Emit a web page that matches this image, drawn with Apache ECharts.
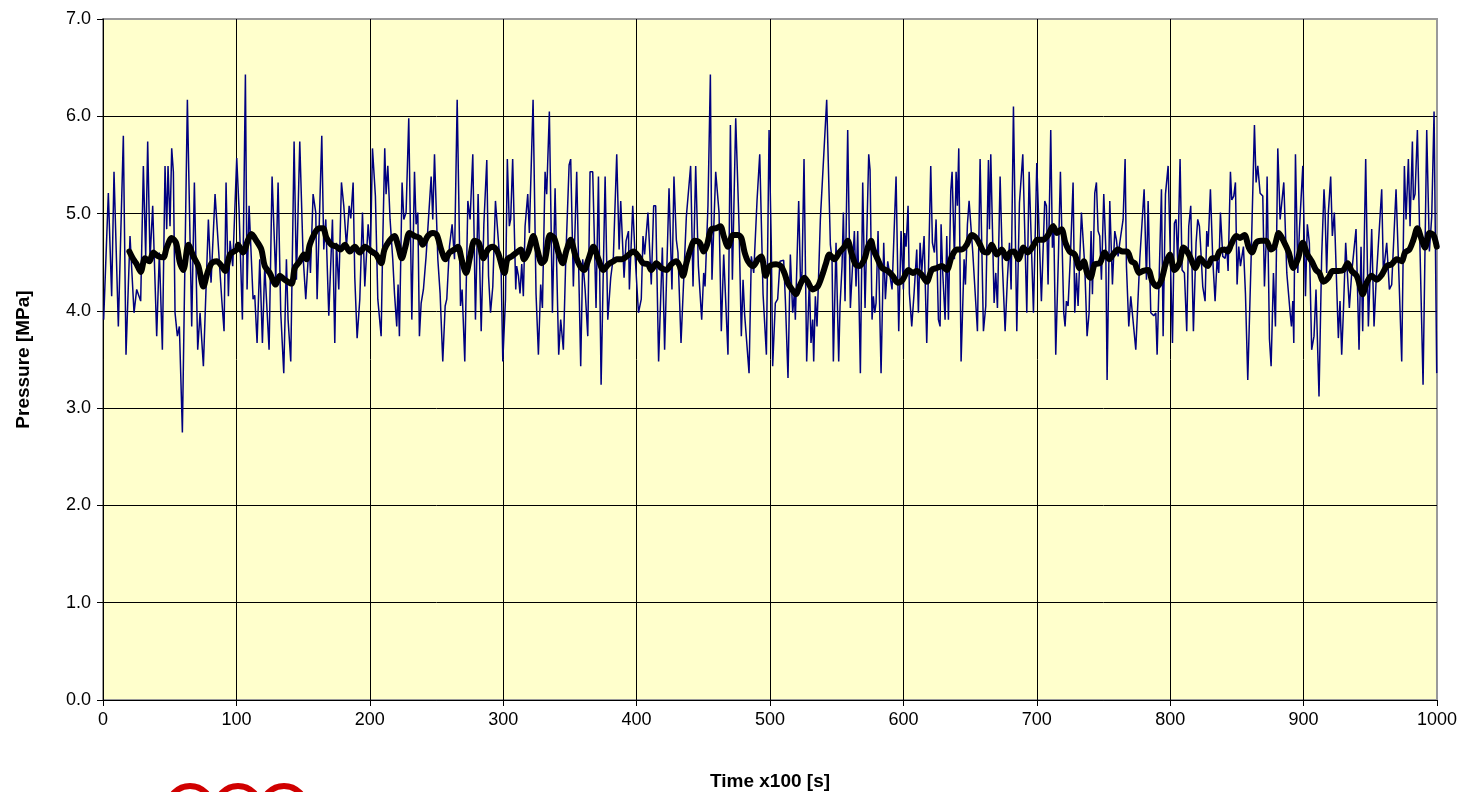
<!DOCTYPE html>
<html>
<head>
<meta charset="utf-8">
<script src="https://cdn.jsdelivr.net/npm/echarts@6/dist/echarts.min.js"></script>
<style>
html,body{margin:0;padding:0;background:#fff;}
#chart{width:1471px;height:792px;}
</style>
</head>
<body>
<div id="chart"></div>
<script>
// Raw pressure signal (time in units of 100 s, pressure in MPa)
const rawTime = [0.5,4,6.5,8.25,11.5,15.25,17.25,20.25,23.25,25.25,28.25,30.25,32,33.5,35.25,37.25,40.25,42.25,44.5,46.5,47.75,48.75,50.25,51.5,52.75,54,55.75,57.25,59.5,63.25,66.5,68.5,71,72.75,75.25,79,81,84,89,90.75,92.25,94,95.25,97.25,100.25,
102,104.5,106.75,108,109.5,112.5,113.75,115.5,117.5,119.5,121.25,124.5,126.75,129.5,131.25,133.25,135.5,137.5,138.75,140.75,143.25,145,147.5,150,152,154.5,155.5,157.5,159.5,160.5,164,165.5,167,169.25,172,173.75,175,176.75,178.75,180.5,182.5,184.5,185.75,187.5,188.75,190.5,192.5,194.5,196.25,198.75,200.5,202,
204.2,206,208.5,209.7,211.2,212.2,213.5,215.2,217.2,218.5,220.2,221.2,222.2,224.2,225.5,227.2,229.2,231.5,233.5,234.7,236,237.2,238.5,240.2,242.2,246,247.2,248.5,251,252.7,254.7,256.5,257.7,259.7,261.7,263.5,265.5,268,269.2,271.2,273.5,275.2,277.2,279.2,281.2,283.5,285.5,287.7,289,290.5,292.2,294.2,296.7,298.5,299.7,301.7,
303.1,304.6,305.6,307.1,309.4,310.1,311.4,312.6,313.9,315.1,316.4,318.4,319.6,320.6,322.4,324.6,326.4,328.1,329.4,331.4,332.6,334.6,336.9,338.9,340.1,341.6,343.1,345.1,346.9,349.4,350.6,352.6,355.1,358.1,359.6,361.4,363.4,365.1,367.1,369.6,371.4,373.4,376.4,378.4,380.6,382.6,385.1,386.9,388.1,390.6,392.1,393.9,394.6,397.1,398.9,401.4,
403.5,404.8,406,408.5,409.3,411,412.8,414.3,416.5,419.3,421,424.3,426.5,428,429.8,431,433.3,437.3,440.5,442.3,444.3,446.3,447.3,448.8,450.3,451.3,453.5,455.3,456.5,459.3,461.8,463.5,465.3,468.5,470.3,471.8,474.3,476.8,478.5,479.8,481,484.3,486,487.8,490.3,492.3,494.8,497.3,499.3,501,
502,504,505.75,507.5,510.25,511.5,513.5,515.25,517,518.25,519,521.5,523,524,525.5,527.5,529.5,530.75,532,532.75,534,535.25,537.75,539,542.5,545.25,546.5,547.5,549.5,551.5,552.5,554,555,556.25,558.25,560.25,561.5,563.25,564.5,565.75,567.75,569.5,571.25,574,575,576.5,577.5,578.5,579.5,581,583.25,585.25,586.5,588.25,589.5,591.5,594.5,596.5,598.25,600,601,
602,603.5,604.5,606.25,608,610,611.25,612.5,613.75,615.5,617.5,618.75,620.5,621.75,623.25,624.5,626.25,627.5,628.25,629.5,631.25,632.5,633.75,635.5,636.5,638.25,639.5,640.5,641.5,643.25,645.5,646.5,648,649.25,650.5,652,655.5,657.5,660,661.75,663.75,664.5,665.5,668,669.25,670.5,672.5,674.25,676.25,678,679.5,680.75,682.5,685,687,689.5,692.5,694.25,697.5,700,
703.45,705.95,707.2,708.45,710.45,711.7,712.7,714.2,716.2,717.7,718.7,720.2,721.2,722.2,723.45,725.2,727.2,728.45,729.7,730.95,733.45,735.95,737.7,739.2,740.7,741.7,743.45,744.7,745.95,747.2,748.45,750.2,751.7,752.7,754.7,756.7,758.45,759.7,760.95,762.2,764.7,766.2,767.2,768.95,770.45,771.7,774.2,777.2,780.45,782.2,783.45,785.45,787.7,789.2,790.2,793.45,794.7,796.45,798.45,801.7,
803.15,804.4,805.65,807.4,808.9,810.65,812.4,813.9,815.4,817.4,819.4,820.65,821.9,822.65,824.4,826.15,827.4,828.4,830.15,831.9,833.65,835.15,836.4,837.65,839.4,841.15,842.4,843.4,845.15,846.15,847.65,848.9,850.15,851.4,852.65,854.9,856.4,858.15,860.65,863.15,864.4,865.65,867.4,869.4,870.65,871.9,872.65,874.4,875.65,877.4,878.9,880.65,882.4,883.65,885.15,887.4,889.9,890.9,891.9,892.65,893.9,895.65,896.9,897.65,899.4,901.4,
902.8,904.3,906.05,907.8,909.3,911.55,913.55,915.3,916.05,917.3,918.55,920.3,921.55,923.05,924.3,926.05,927.3,928.55,929.8,931.55,932.8,934.3,936.05,939.3,941.55,943.05,944.3,946.55,948.55,951.05,952.8,954.3,958.55,959.8,962.3,964.3,966.05,969.3,971.05,973.55,975.55,976.8,978.55,979.8,981.55,982.3,983.55,985.3,987.3,989.55,992.3,994.3,996.05,997.8,999.8];

const rawPressure = [3.91,5.21,4.15,5.43,3.84,5.80,3.55,4.77,3.98,4.22,4.10,5.49,4.56,5.74,4.53,5.08,3.74,4.60,3.60,5.49,4.84,5.49,4.87,5.67,5.43,3.98,3.74,3.84,2.75,6.17,3.84,5.32,3.60,3.98,3.43,4.94,4.29,5.20,4.12,3.79,5.32,4.15,4.72,4.46,5.57,
5.04,3.91,6.43,4.22,5.08,4.12,4.16,3.67,4.53,3.67,4.46,3.60,5.38,4.32,5.32,3.98,3.36,4.53,3.91,3.48,5.74,4.32,5.74,4.56,4.12,4.70,4.39,5.20,5.01,4.12,5.80,4.63,4.94,3.95,4.94,3.67,4.70,4.22,5.32,5.08,4.66,5.08,4.95,5.32,4.34,3.72,4.12,5.01,4.25,4.89,4.60,5.67,
5.18,4.12,3.74,4.70,5.67,5.20,5.49,4.94,4.53,4.18,3.84,4.27,3.74,5.32,4.94,5.01,5.98,3.91,5.43,4.89,5.01,3.74,4.08,4.22,4.56,5.38,4.94,5.61,4.53,4.18,3.48,4.05,4.12,4.66,4.89,4.53,6.17,4.05,4.22,3.48,5.13,4.94,5.61,3.91,5.20,3.79,4.89,5.55,4.36,3.98,4.25,5.13,4.66,4.39,3.48,4.12,
5.56,4.87,4.94,5.56,4.22,4.46,4.36,4.18,4.48,4.15,4.87,5.20,4.80,4.82,6.17,4.18,3.55,4.27,4.03,5.43,5.20,6.05,3.98,5.26,4.46,3.55,3.91,3.60,4.53,5.50,5.56,4.25,5.43,3.43,4.53,4.22,3.74,5.43,5.43,4.03,5.38,3.24,5.38,3.91,4.34,4.56,5.61,4.63,5.13,4.34,4.72,4.82,4.22,5.08,4.56,3.98,
4.12,4.77,4.58,5.01,5.01,4.27,5.08,5.08,3.48,4.65,3.60,5.26,4.22,5.38,4.73,4.60,3.67,4.97,5.49,4.25,5.49,4.46,4.46,3.91,4.39,4.25,5.08,6.43,4.32,5.43,5.01,3.79,4.58,3.55,5.91,4.32,5.98,4.87,3.74,4.32,3.96,3.36,4.56,4.39,5.14,5.61,4.17,3.55,5.86,4.66,
3.43,4.08,4.12,4.51,4.52,4.12,3.31,4.58,3.98,4.18,3.91,5.13,4.22,4.39,5.56,3.48,4.32,3.67,3.91,3.48,4.15,3.84,4.94,4.95,6.17,4.68,4.53,3.48,4.70,3.48,4.05,4.46,5.01,4.10,5.86,4.03,4.36,4.82,4.25,4.82,3.36,5.32,4.03,5.61,5.45,3.91,4.15,3.98,4.08,4.82,3.36,4.70,4.12,4.51,4.51,4.22,5.38,3.79,4.82,4.22,4.80,
4.66,5.08,4.18,3.84,4.18,4.63,3.98,4.70,4.39,4.77,3.67,4.39,5.49,4.70,4.60,4.94,3.91,3.84,4.89,4.39,3.91,4.77,3.91,5.23,5.43,4.53,5.43,5.08,5.67,3.48,4.53,4.27,4.89,5.13,5.13,4.60,3.79,5.56,3.79,4.05,5.55,4.84,5.61,4.08,4.39,4.03,5.38,4.46,3.79,4.34,4.70,4.22,6.10,3.79,5.11,5.61,3.98,5.43,3.98,5.52,
4.10,5.13,5.08,4.27,5.86,4.65,4.90,3.55,4.56,5.43,5.42,3.98,3.84,4.10,4.05,4.56,5.32,3.98,4.39,4.05,5.01,4.46,3.74,3.98,4.82,4.17,5.21,5.32,4.82,4.77,4.32,5.20,4.65,3.29,5.13,4.27,4.82,4.73,4.56,4.70,4.94,5.56,4.46,3.84,4.15,4.15,3.60,4.53,5.25,4.32,5.13,3.98,3.95,3.98,3.55,5.25,3.74,5.20,5.49,3.67,
4.90,4.94,4.49,5.56,4.42,4.39,3.79,4.87,5.08,3.79,4.70,4.94,4.87,4.70,4.25,4.10,4.82,4.66,5.25,4.53,4.10,4.53,4.39,5.01,4.56,4.54,4.66,4.41,5.43,5.14,5.18,5.32,4.27,4.66,4.46,4.66,4.18,3.29,4.53,5.91,5.32,5.49,5.21,5.18,4.25,4.70,5.38,3.71,3.43,4.39,3.84,5.67,4.94,4.96,5.32,4.39,3.98,3.84,4.10,3.67,5.61,4.39,4.84,4.82,5.49,4.15,
4.89,4.70,3.60,3.74,4.22,3.12,4.56,5.25,5.04,4.39,5.01,5.38,4.77,5.01,5.01,3.72,4.10,3.55,3.98,4.70,4.39,4.03,4.39,4.84,3.60,4.66,3.79,5.56,3.84,4.84,3.84,4.29,5.25,4.39,4.70,4.22,4.27,5.25,4.53,3.48,5.49,4.94,5.56,4.87,5.74,5.14,5.20,5.86,4.61,3.24,5.86,4.61,4.97,6.05,3.36];

// Moving average (time in units of 100 s, pressure in MPa)
const avgTime = [19.75,22.75,25.25,28.25,31.5,34.75,37.75,41.5,45.25,47.75,51.5,54.75,57.75,60.25,64,67.75,71.5,75.25,78.25,81.5,85.25,89,91.5,95.25,100.25,
101.25,105,108.75,111.25,115,118.75,121.25,125,129.5,132.5,136.25,141.25,143.75,147.5,150.5,152.5,155,158.75,162,165,167.5,171.25,175,178,181.25,185,188.75,192.5,196.25,201.25,
204.7,208.5,211,214.7,218.5,221,224,226.7,229.7,233.5,237.2,239.7,243.5,247.2,250.2,253.5,256.7,259.7,263.5,266,269.2,272.2,275.2,278.5,281.7,285.2,288.5,292.2,296,301,
303.1,306.4,310.1,313.1,315.6,318.9,322.6,325.6,328.9,331.4,335.1,338.1,341.4,344.6,347.6,350.6,353.9,357.6,360.6,363.9,367.6,371.4,375.1,378.9,382.6,385.1,388.9,392.6,397.6,401.4,
404.8,408.5,411,414.8,418.5,422.3,426,429.8,432.3,434.8,437.3,440.3,443.5,447.3,450.3,452.8,456,459.8,462.8,465.3,468.5,472.3,476,478.5,481,483.5,487.3,491,493.5,496.8,499.8,
504.5,508.25,510.75,513.25,516.5,519.5,522,525.75,528.25,532,535.75,539,542,544.5,548.25,552,555.75,558.25,560.75,564,567,570.75,573.25,575.75,577.5,580.75,584,588.25,592,595.75,599.5,
603.75,607,610,613.75,617.5,621.25,625,628.75,632.5,636.25,640,643.75,647.5,651.25,654.5,657.5,660,663,666.25,670,673.75,677.5,680,683,686.25,690,693.25,697,700.5,
704.7,708.45,712.2,715.2,718.45,721.45,724.7,728.45,732.2,735.2,737.7,740.2,743.45,747.2,750.95,754.2,757.2,760.95,764.2,767.7,770.95,773.45,776.7,779.7,783.45,786.7,790.2,793.45,796.7,799.7,
803.15,806.9,809.9,813.15,815.65,818.9,822.4,825.65,828.15,831.4,834.4,836.9,840.65,843.15,845.65,849.4,852.4,855.65,858.9,861.4,864.4,868.15,871.9,875.65,878.15,881.4,884.9,888.9,892.4,895.65,899.4,
902.8,906.05,909.3,911.8,914.8,918.55,921.8,926.05,929.8,933.05,936.05,939.8,942.3,944.3,947.3,951.05,954.8,958.55,962.3,966.05,969.8,973.55,976.05,979.3,982.3,985.3,988.55,991.05,994.3,997.3,999.8];

const avgPressure = [4.61,4.53,4.48,4.40,4.54,4.51,4.60,4.56,4.55,4.65,4.75,4.70,4.49,4.42,4.68,4.56,4.46,4.25,4.39,4.49,4.51,4.46,4.41,4.58,4.63,
4.68,4.60,4.73,4.79,4.72,4.63,4.46,4.39,4.27,4.36,4.32,4.28,4.44,4.51,4.58,4.53,4.68,4.80,4.85,4.85,4.75,4.68,4.66,4.63,4.68,4.61,4.66,4.60,4.66,4.61,
4.58,4.49,4.63,4.72,4.77,4.68,4.54,4.66,4.80,4.77,4.75,4.68,4.77,4.80,4.78,4.63,4.53,4.60,4.63,4.66,4.51,4.39,4.56,4.72,4.70,4.54,4.63,4.66,4.60,4.39,
4.53,4.56,4.60,4.63,4.53,4.61,4.77,4.63,4.49,4.53,4.78,4.75,4.60,4.49,4.63,4.73,4.58,4.46,4.42,4.53,4.66,4.53,4.42,4.48,4.51,4.53,4.53,4.56,4.61,4.56,
4.49,4.48,4.42,4.49,4.44,4.42,4.48,4.51,4.46,4.36,4.49,4.63,4.72,4.70,4.61,4.68,4.84,4.85,4.87,4.77,4.66,4.78,4.78,4.75,4.60,4.51,4.46,4.53,4.56,4.36,4.46,
4.48,4.46,4.39,4.29,4.22,4.17,4.25,4.34,4.30,4.22,4.25,4.36,4.49,4.58,4.53,4.60,4.66,4.72,4.61,4.48,4.46,4.53,4.65,4.72,4.63,4.53,4.44,4.41,4.36,4.29,4.32,
4.42,4.39,4.41,4.37,4.30,4.42,4.44,4.46,4.42,4.56,4.63,4.63,4.68,4.78,4.75,4.68,4.61,4.60,4.68,4.58,4.63,4.54,4.60,4.61,4.53,4.65,4.60,4.66,4.73,
4.73,4.78,4.87,4.80,4.84,4.70,4.61,4.58,4.44,4.51,4.39,4.34,4.48,4.49,4.60,4.53,4.58,4.63,4.61,4.61,4.51,4.49,4.39,4.41,4.42,4.30,4.25,4.32,4.49,4.58,
4.42,4.49,4.65,4.60,4.53,4.44,4.54,4.49,4.46,4.54,4.54,4.61,4.63,4.61,4.68,4.77,4.75,4.78,4.65,4.60,4.70,4.72,4.72,4.63,4.66,4.80,4.72,4.60,4.44,4.53,4.70,
4.58,4.51,4.42,4.39,4.30,4.34,4.41,4.41,4.42,4.49,4.41,4.36,4.25,4.17,4.29,4.36,4.32,4.37,4.46,4.48,4.53,4.51,4.60,4.63,4.73,4.85,4.73,4.65,4.80,4.78,4.66];

// Axis ticks
const xTicks = [0,100,200,300,400,500,600,700,800,900,1000];
const yTicks = [0,1,2,3,4,5,6,7];

const zip = (a, b) => a.map((v, i) => [v, b[i]]);

const chart = echarts.init(document.getElementById('chart'), null, {renderer: 'canvas'});
const font = '"Liberation Sans", Arial, sans-serif';

chart.setOption({
  animation: false,
  backgroundColor: '#ffffff',
  grid: {
    left: 103, right: 34, top: 19, bottom: 92,
    containLabel: false, outerBoundsMode: 'none',
    show: true, backgroundColor: '#FFFFCC', borderColor: '#9a9a9a', borderWidth: 2
  },
  xAxis: {
    type: 'value',
    min: xTicks[0], max: xTicks[xTicks.length - 1], interval: 100,
    name: 'Time x100 [s]', nameLocation: 'middle', nameGap: 72,
    nameTextStyle: {fontFamily: font, fontSize: 19, fontWeight: 'bold', color: '#000'},
    axisLine: {show: true, onZero: false, lineStyle: {color: '#000', width: 1}},
    axisTick: {show: true, length: 6, lineStyle: {color: '#000'}},
    axisLabel: {fontFamily: font, fontSize: 18, color: '#000', margin: 11,
      formatter: v => String(v)},
    splitLine: {show: true, showMaxLine: false, lineStyle: {color: '#000', width: 1}}
  },
  yAxis: {
    type: 'value',
    min: yTicks[0], max: yTicks[yTicks.length - 1], interval: 1,
    name: 'Pressure [MPa]', nameLocation: 'middle', nameGap: 70,
    nameTextStyle: {fontFamily: font, fontSize: 19, fontWeight: 'bold', color: '#000'},
    axisLine: {show: true, lineStyle: {color: '#000', width: 1}},
    axisTick: {show: true, length: 6, lineStyle: {color: '#000'}},
    axisLabel: {fontFamily: font, fontSize: 18, color: '#000', margin: 12,
      formatter: v => v.toFixed(1)},
    splitLine: {show: true, showMaxLine: false, lineStyle: {color: '#000', width: 1}}
  },
  series: [
    {
      type: 'line', name: 'Pressure', data: zip(rawTime, rawPressure),
      showSymbol: false, symbol: 'none',
      lineStyle: {color: '#000080', width: 1.5}, z: 2
    },
    {
      type: 'line', name: 'Average', data: zip(avgTime, avgPressure),
      showSymbol: false, symbol: 'none', smooth: 0.3,
      lineStyle: {color: '#000000', width: 6, cap: 'round', join: 'round'}, z: 3
    }
  ],
  graphic: [
    {type: 'circle', shape: {cx: 190, cy: 808, r: 22}, style: {fill: 'none', stroke: '#D00000', lineWidth: 6}},
    {type: 'circle', shape: {cx: 238, cy: 808, r: 22}, style: {fill: 'none', stroke: '#D00000', lineWidth: 6}},
    {type: 'circle', shape: {cx: 284, cy: 808, r: 22}, style: {fill: 'none', stroke: '#D00000', lineWidth: 6}}
  ]
});
</script>
</body>
</html>
